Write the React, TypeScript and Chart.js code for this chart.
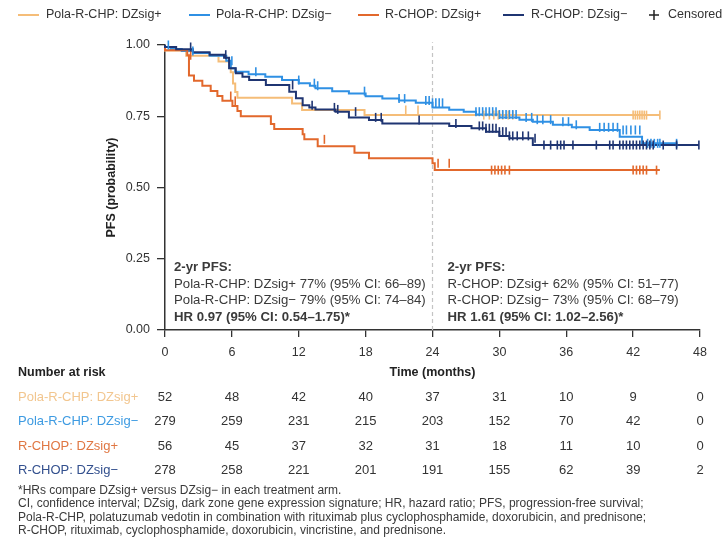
import React, { useEffect, useRef } from "react";
import { Chart, registerables } from "chart.js";

Chart.register(...registerables);

// ---------- DATA ----------
const seriesLabels = ["Pola-R-CHP: DZsig+", "Pola-R-CHP: DZsig\u2212", "R-CHOP: DZsig+", "R-CHOP: DZsig\u2212"];
const lineColors = ["#F5BD78", "#2F90E4", "#E2682C", "#1F3572"];
const labelColors = ["#F2C68F", "#3E9BE2", "#E07743", "#33508E"];

// Kaplan–Meier steps (time in months, survival after the step)
const polaPosTimes = [0, 1.9, 4.8, 5.9, 6.1, 6.3, 6.5, 11.4, 12.3, 17.9, 25.3, 44.4];
const polaPosSurv = [1, 0.981, 0.962, 0.942, 0.904, 0.865, 0.835, 0.815, 0.795, 0.772, 0.754, 0.754];

const polaNegTimes = [0, 0.5, 1.5, 2.5, 4, 5.5, 5.9, 6.3, 7.5, 9, 10.5, 12, 13, 13.5, 15, 16.5, 18, 19.5, 21, 22.5, 24, 25.5, 26.8, 27.9, 30, 31.8, 33, 34.8, 36.5, 38.1, 40.8, 42.8, 43.1, 46];
const polaNegSurv = [1, 0.993, 0.986, 0.979, 0.972, 0.962, 0.945, 0.918, 0.906, 0.897, 0.889, 0.877, 0.866, 0.857, 0.848, 0.838, 0.83, 0.82, 0.812, 0.805, 0.797, 0.781, 0.773, 0.766, 0.756, 0.746, 0.738, 0.731, 0.72, 0.711, 0.702, 0.678, 0.655, 0.655];

const rchopPosTimes = [0, 2.0, 2.15, 2.6, 3.35, 4.1, 4.7, 5.15, 6.05, 6.5, 6.8, 9.5, 9.8, 12.35, 12.5, 13.7, 17.0, 18.3, 24.0, 24.2, 27.6, 44.4];
const rchopPosSurv = [1, 0.982, 0.964, 0.893, 0.875, 0.857, 0.839, 0.821, 0.804, 0.786, 0.768, 0.75, 0.723, 0.705, 0.687, 0.669, 0.645, 0.622, 0.603, 0.585, 0.561, 0.561];

const rchopNegTimes = [0, 1, 2.5, 4, 5.3, 5.75, 6.35, 6.95, 7.55, 9.05, 11.15, 11.75, 12.35, 12.95, 13.5, 15.3, 16.5, 18.3, 19.5, 25.5, 27.5, 28.8, 30.0, 30.9, 33.0, 33.6, 47.9];
const rchopNegSurv = [1, 0.993, 0.985, 0.975, 0.966, 0.955, 0.918, 0.901, 0.889, 0.877, 0.86, 0.836, 0.813, 0.789, 0.781, 0.774, 0.766, 0.746, 0.737, 0.725, 0.716, 0.708, 0.696, 0.681, 0.673, 0.649, 0.649];

// Censoring times (months)
const polaPosCens = [21.6, 22.7, 28.6, 29.1, 29.5, 29.9, 30.3, 30.8, 31.2, 42.0, 42.2, 42.4, 42.6, 42.8, 43.0, 43.2, 44.4];
const polaNegCens = [0.3, 2.5, 6.0, 8.15, 12.0, 13.4, 13.7, 17.9, 21.0, 21.5, 23.4, 23.7, 24.0, 24.3, 24.6, 24.9, 27.9, 28.2, 28.5, 28.8, 29.1, 29.4, 29.7, 30.0, 30.3, 30.6, 30.9, 31.2, 31.5, 32.4, 32.9, 33.4, 33.9, 34.6, 35.7, 36.2, 36.9, 39.0, 39.4, 39.8, 40.2, 40.6, 41.1, 41.4, 41.8, 42.2, 42.6, 43.3, 43.6, 43.9, 44.2, 44.4, 45.9];
const rchopPosCens = [2.3, 5.9, 6.3, 14.3, 24.5, 25.5, 29.3, 29.6, 29.9, 30.2, 30.5, 30.9, 42.0, 42.3, 42.6, 42.9, 43.2, 44.1];
const rchopNegCens = [2.3, 5.45, 11.45, 13.2, 15.2, 15.5, 17.1, 18.9, 19.4, 22.8, 26.1, 28.2, 28.5, 28.8, 29.1, 29.4, 29.7, 30.0, 30.3, 30.6, 30.9, 31.2, 31.6, 32.1, 32.6, 33.2, 34.0, 34.6, 35.2, 35.5, 35.8, 36.6, 38.7, 39.9, 40.2, 40.8, 41.1, 41.4, 41.7, 42.0, 42.3, 42.6, 42.9, 43.2, 43.5, 43.8, 44.7, 45.9, 47.9];

// Number at risk
const riskMonths = [0, 6, 12, 18, 24, 30, 36, 42, 48];
const riskPolaPos = [52, 48, 42, 40, 37, 31, 10, 9, 0];
const riskPolaNeg = [279, 259, 231, 215, 203, 152, 70, 42, 0];
const riskRchopPos = [56, 45, 37, 32, 31, 18, 11, 10, 0];
const riskRchopNeg = [278, 258, 221, 201, 191, 155, 62, 39, 2];

const yTicks = [0, 0.25, 0.5, 0.75, 1];
const landmarkMonth = 24;

const leftBlock = [
  "2-yr PFS:",
  "Pola-R-CHP: DZsig+ 77% (95% CI: 66\u201389)",
  "Pola-R-CHP: DZsig\u2212 79% (95% CI: 74\u201384)",
  "HR 0.97 (95% CI: 0.54\u20131.75)*",
];
const rightBlock = [
  "2-yr PFS:",
  "R-CHOP: DZsig+ 62% (95% CI: 51\u201377)",
  "R-CHOP: DZsig\u2212 73% (95% CI: 68\u201379)",
  "HR 1.61 (95% CI: 1.02\u20132.56)*",
];
const footnotes = [
  "*HRs compare DZsig+ versus DZsig\u2212 in each treatment arm.",
  "CI, confidence interval; DZsig, dark zone gene expression signature; HR, hazard ratio; PFS, progression-free survival;",
  "Pola-R-CHP, polatuzumab vedotin in combination with rituximab plus cyclophosphamide, doxorubicin, and prednisone;",
  "R-CHOP, rituximab, cyclophosphamide, doxorubicin, vincristine, and prednisone.",
];

// ---------- HELPERS ----------
const FONT = '"Liberation Sans", Arial, Helvetica, sans-serif';

function toPoints(times: number[], surv: number[]) {
  return times.map((t, i) => ({ x: t, y: surv[i] }));
}
function survAt(times: number[], surv: number[], t: number) {
  let v = surv[0];
  for (let i = 0; i < times.length; i++) {
    if (times[i] <= t) v = surv[i];
  }
  return v;
}
function censPoints(times: number[], surv: number[], cens: number[]) {
  return cens.map((t) => ({ x: t, y: survAt(times, surv, t) }));
}

const curveTimes = [polaPosTimes, polaNegTimes, rchopPosTimes, rchopNegTimes];
const curveSurv = [polaPosSurv, polaNegSurv, rchopPosSurv, rchopNegSurv];
const curveCens = [polaPosCens, polaNegCens, rchopPosCens, rchopNegCens];
const riskRows = [riskPolaPos, riskPolaNeg, riskRchopPos, riskRchopNeg];

const overlayPlugin = {
  id: "overlay",
  afterDraw(chart: any) {
    const ctx = chart.ctx;
    const xs = chart.scales.x;
    const ys = chart.scales.y;
    ctx.save();

    // Legend
    const legY = 15;
    const legItems = [
      { sw: 18, tx: 46 },
      { sw: 189, tx: 216 },
      { sw: 358, tx: 385 },
      { sw: 503, tx: 531 },
    ];
    ctx.font = `12.5px ${FONT}`;
    ctx.textBaseline = "middle";
    ctx.textAlign = "left";
    legItems.forEach((it, i) => {
      ctx.strokeStyle = lineColors[i];
      ctx.lineWidth = 2;
      ctx.beginPath();
      ctx.moveTo(it.sw, legY);
      ctx.lineTo(it.sw + 21, legY);
      ctx.stroke();
      ctx.fillStyle = "#333";
      ctx.fillText(seriesLabels[i], it.tx, legY);
    });
    ctx.strokeStyle = "#222";
    ctx.lineWidth = 1.5;
    ctx.beginPath();
    ctx.moveTo(649, legY);
    ctx.lineTo(659, legY);
    ctx.moveTo(654, legY - 5);
    ctx.lineTo(654, legY + 5);
    ctx.stroke();
    ctx.fillStyle = "#333";
    ctx.fillText("Censored", 668, legY);

    // Annotation blocks
    const blockTop = ys.getPixelForValue(0.25) + 9;
    const lineH = 16.5;
    const drawBlock = (lines: string[], x: number) => {
      lines.forEach((s, i) => {
        const bold = i === 0 || i === lines.length - 1;
        ctx.font = `${bold ? "bold " : ""}13.2px ${FONT}`;
        ctx.fillStyle = "#3a3a3a";
        ctx.textAlign = "left";
        ctx.fillText(s, x, blockTop + i * lineH);
      });
    };
    drawBlock(leftBlock, xs.getPixelForValue(0) + 9);
    drawBlock(rightBlock, xs.getPixelForValue(landmarkMonth) + 15);

    // Number at risk
    ctx.font = `bold 12.5px ${FONT}`;
    ctx.fillStyle = "#222";
    ctx.textAlign = "left";
    ctx.fillText("Number at risk", 18, 373);
    const rowY = [397, 421.5, 446, 470.5];
    riskRows.forEach((row, r) => {
      ctx.font = `13px ${FONT}`;
      ctx.textAlign = "left";
      ctx.fillStyle = labelColors[r];
      ctx.fillText(seriesLabels[r], 18, rowY[r]);
      ctx.fillStyle = "#333";
      ctx.textAlign = "center";
      row.forEach((v, k) => {
        ctx.fillText(String(v), xs.getPixelForValue(riskMonths[k]), rowY[r]);
      });
    });

    // Footnotes
    ctx.font = `12px ${FONT}`;
    ctx.fillStyle = "#3a3a3a";
    ctx.textAlign = "left";
    const fnY = [490.5, 504, 517.5, 531];
    footnotes.forEach((s, i) => ctx.fillText(s, 18, fnY[i]));

    ctx.restore();
  },
};

export default function App() {
  const ref = useRef<HTMLCanvasElement | null>(null);
  useEffect(() => {
    if (!ref.current) return;
    const datasets: any[] = [];
    for (let i = 0; i < 4; i++) {
      datasets.push({
        type: "line",
        label: seriesLabels[i],
        data: toPoints(curveTimes[i], curveSurv[i]),
        borderColor: lineColors[i],
        backgroundColor: lineColors[i],
        borderWidth: 2,
        stepped: "after",
        pointRadius: 0,
        fill: false,
        clip: 6,
        order: 10 - i,
      });
    }
    for (let i = 0; i < 4; i++) {
      datasets.push({
        type: "scatter",
        label: seriesLabels[i] + " censored",
        data: censPoints(curveTimes[i], curveSurv[i], curveCens[i]),
        borderColor: lineColors[i],
        backgroundColor: lineColors[i],
        pointStyle: "line",
        rotation: 90,
        pointRadius: 4.5,
        borderWidth: 1.6,
        showLine: false,
        clip: 6,
        order: 5 - i,
      });
    }
    datasets.push({
      type: "line",
      label: "landmark",
      data: [
        { x: landmarkMonth, y: 0 },
        { x: landmarkMonth, y: 1.01 },
      ],
      borderColor: "#c4c4c4",
      borderWidth: 1.2,
      borderDash: [4, 3],
      pointRadius: 0,
      clip: 8,
      order: 20,
    });

    const chart = new Chart(ref.current, {
      type: "line",
      data: { datasets },
      options: {
        animation: false,
        responsive: false,
        devicePixelRatio: 1,
        layout: { padding: { left: 100, top: 45, right: 27, bottom: 160 } },
        plugins: { legend: { display: false }, tooltip: { enabled: false } },
        scales: {
          x: {
            type: "linear",
            min: 0,
            max: 48,
            afterFit: (s: any) => {
              s.height = 52;
            },
            afterBuildTicks: (s: any) => {
              s.ticks = riskMonths.map((v) => ({ value: v }));
            },
            ticks: {
              color: "#333",
              font: { family: FONT, size: 12.5 },
              padding: 8,
              maxRotation: 0,
            },
            grid: { drawOnChartArea: false, drawTicks: true, tickLength: 7, color: "#333", lineWidth: 1.3 },
            border: { display: true, color: "#333", width: 1.5 },
            title: {
              display: true,
              text: "Time (months)",
              color: "#222",
              font: { family: FONT, size: 12.5, weight: "bold" },
              padding: { top: 0, bottom: 2 },
            },
          },
          y: {
            type: "linear",
            min: 0,
            max: 1,
            afterFit: (s: any) => {
              s.width = 65;
            },
            afterBuildTicks: (s: any) => {
              s.ticks = yTicks.map((v) => ({ value: v }));
            },
            ticks: {
              color: "#333",
              font: { family: FONT, size: 12.5 },
              padding: 7,
              callback: (v: any) => Number(v).toFixed(2),
            },
            grid: { drawOnChartArea: false, drawTicks: true, tickLength: 8, color: "#333", lineWidth: 1.3 },
            border: { display: true, color: "#333", width: 1.5 },
            title: {
              display: true,
              text: "PFS (probability)",
              color: "#222",
              font: { family: FONT, size: 12.5, weight: "bold" },
              padding: { top: 4, bottom: 0 },
            },
          },
        },
      },
      plugins: [overlayPlugin],
    });
    return () => chart.destroy();
  }, []);

  return (
    <div style={{ position: "fixed", left: 0, top: 0, width: 727, height: 542, background: "#fff" }}>
      <canvas ref={ref} width={727} height={542} style={{ display: "block", width: 727, height: 542 }} />
    </div>
  );
}
